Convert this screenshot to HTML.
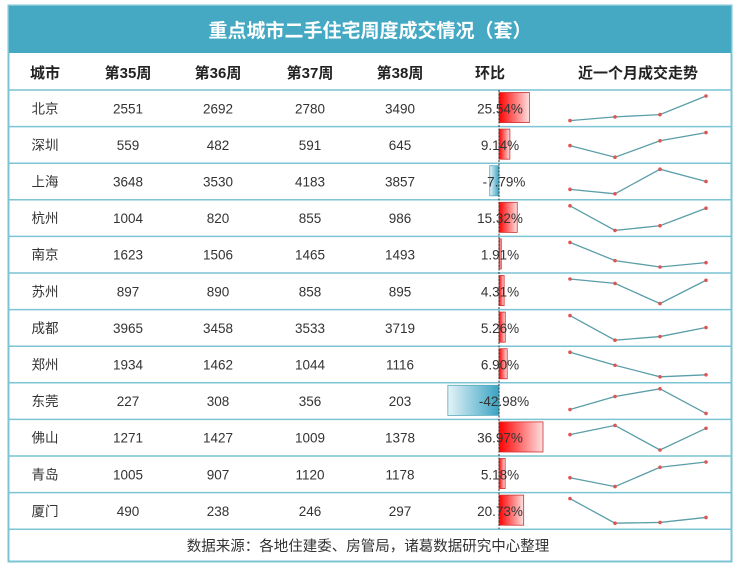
<!DOCTYPE html>
<html><head><meta charset="utf-8"><style>
body{margin:0;width:740px;height:572px;background:#fff;font-family:"Liberation Sans","Noto Sans CJK SC",sans-serif;overflow:hidden}
</style></head><body>
<svg id="s" width="740" height="572" xmlns="http://www.w3.org/2000/svg">
<defs>
<linearGradient id="r" x1="0" x2="1"><stop offset="0" stop-color="#f00"/><stop offset="1" stop-color="#fde0e0"/></linearGradient>
<linearGradient id="b" x1="1" x2="0"><stop offset="0" stop-color="#3aa3c2"/><stop offset="1" stop-color="#e4f3f8"/></linearGradient>
</defs>
<rect x="8.5" y="5.5" width="723" height="556" fill="#fff" stroke="#7cc4d4" stroke-width="2"/>
<rect x="9" y="6" width="722" height="47" fill="#45a9c3"/>
<text x="370" y="37" text-anchor="middle" fill="#fff" font-size="19" font-weight="bold" font-family="Noto Sans CJK SC,sans-serif">重点城市二手住宅周度成交情况（套）</text>
<g id="g"></g>
</svg>
<script>
var d=[["北京",2551,2692,2780,3490,"25.54%"],["深圳",559,482,591,645,"9.14%"],["上海",3648,3530,4183,3857,"-7.79%"],["杭州",1004,820,855,986,"15.32%"],["南京",1623,1506,1465,1493,"1.91%"],["苏州",897,890,858,895,"4.31%"],["成都",3965,3458,3533,3719,"5.26%"],["郑州",1934,1462,1044,1116,"6.90%"],["东莞",227,308,356,203,"-42.98%"],["佛山",1271,1427,1009,1378,"36.97%"],["青岛",1005,907,1120,1178,"5.18%"],["厦门",490,238,246,297,"20.73%"]];
var h='',cx=[45,128,218,310,400];
var hd=["城市","第35周","第36周","第37周","第38周","环比","近一个月成交走势"],hx=[45,128,218,310,400,490,638];
hd.forEach(function(t,i){h+='<text x="'+hx[i]+'" y="78" text-anchor="middle" font-size="15" font-weight="bold" fill="#222">'+t+'</text>';});
h+='<line x1="9" x2="731" y1="90" y2="90" stroke="#7cc4d4" stroke-width="1.5"/>';
var rh=36.6;
d.forEach(function(r,i){var t=90+i*rh,b=t+rh,m=t+rh/2+5;
 for(var k=0;k<5;k++)h+='<text x="'+cx[k]+'" y="'+m+'" text-anchor="middle" font-size="13.5" fill="#333">'+r[k]+'</text>';
 var v=parseFloat(r[5]),w=Math.abs(v)*1.19;
 if(v>=0)h+='<rect x="499" y="'+(t+2.5)+'" width="'+w+'" height="'+(rh-6.5)+'" fill="url(#r)" stroke="#c33" stroke-width="0.8"/>';
 else h+='<rect x="'+(499-w)+'" y="'+(t+2.5)+'" width="'+w+'" height="'+(rh-6.5)+'" fill="url(#b)" stroke="#5ab" stroke-width="0.8"/>';
 h+='<text x="'+(v<0?504:500)+'" y="'+m+'" text-anchor="middle" font-size="13.5" fill="#333">'+r[5]+'</text>';
 var vs=r.slice(1,5),mx=Math.max.apply(0,vs),mn=Math.min.apply(0,vs),xs=[570,615,660,706],p=[];
 vs.forEach(function(v,j){p.push([xs[j],(b-6)-(v-mn)/(mx-mn)*(rh-12)]);});
 h+='<polyline points="'+p.map(function(q){return q.join(',')}).join(' ')+'" fill="none" stroke="#5a9ea8" stroke-width="1.3"/>';
 p.forEach(function(q){h+='<circle cx="'+q[0]+'" cy="'+q[1]+'" r="1.8" fill="#d55"/>';});
 h+='<line x1="9" x2="731" y1="'+b+'" y2="'+b+'" stroke="#7cc4d4" stroke-width="1.5"/>';
});
h+='<line x1="499" x2="499" y1="90" y2="529" stroke="#333" stroke-width="1" stroke-dasharray="2,1.5"/>';
h+='<text x="368" y="551" text-anchor="middle" font-size="14.5" fill="#333">数据来源：各地住建委、房管局，诸葛数据研究中心整理</text>';
document.getElementById('g').innerHTML=h;
</script>
</body></html>
